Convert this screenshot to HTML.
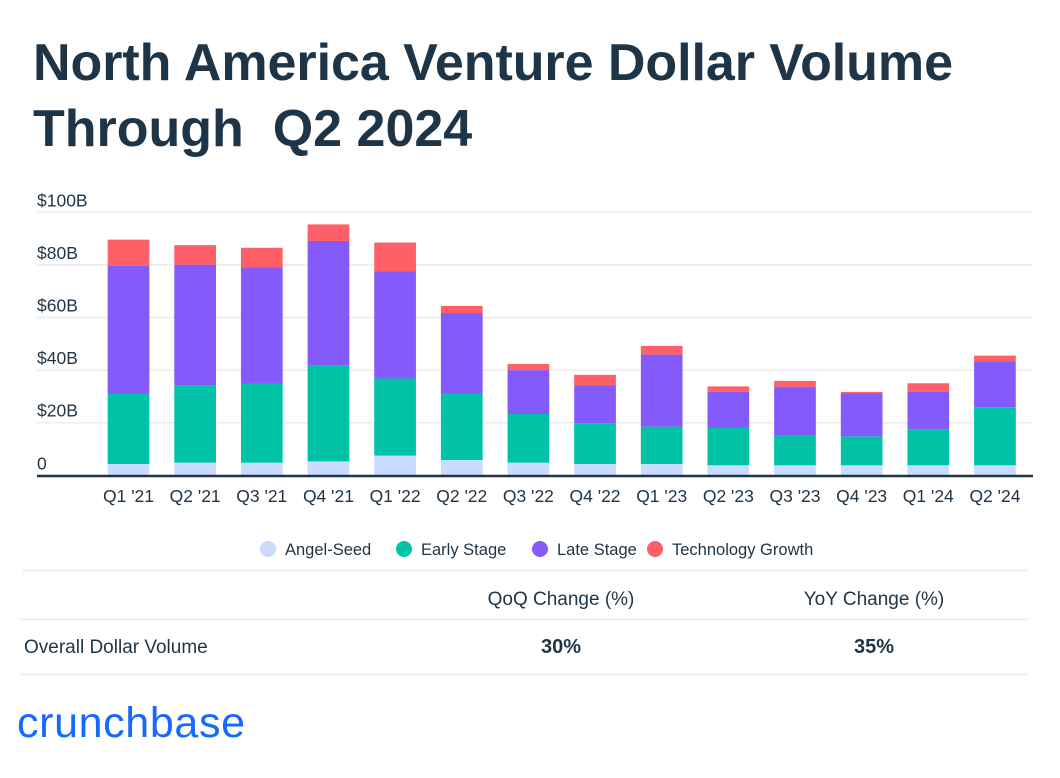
<!DOCTYPE html>
<html><head><meta charset="utf-8"><style>
body{margin:0;background:#fff;width:1060px;height:773px;overflow:hidden;font-family:"Liberation Sans",sans-serif}
</style></head><body>
<svg width="1060" height="773" xmlns="http://www.w3.org/2000/svg" font-family="Liberation Sans, sans-serif">
<text x="33" y="80" font-size="52" font-weight="bold" fill="#1e3447" textLength="920">North America Venture Dollar Volume</text>
<text x="33" y="146" font-size="52" font-weight="bold" fill="#1e3447" xml:space="preserve">Through  Q2 2024</text>
<g id="grid"></g>
<g id="bars"></g>
<g id="xlabels"></g>
<line x1="37" y1="476" x2="1033" y2="476" stroke="#1e3447" stroke-width="2.5"/>
<g id="legend" font-size="16.5" fill="#1e3447"></g>
<line x1="22" y1="570.5" x2="1028" y2="570.5" stroke="#ececec" stroke-width="1.5"/>
<line x1="20" y1="619.5" x2="1028" y2="619.5" stroke="#ececec" stroke-width="1.5"/>
<line x1="20" y1="674.5" x2="1028" y2="674.5" stroke="#ececec" stroke-width="1.5"/>
<text x="561" y="605" font-size="19" fill="#1e3447" text-anchor="middle">QoQ Change (%)</text>
<text x="874" y="605" font-size="19" fill="#1e3447" text-anchor="middle">YoY Change (%)</text>
<text x="24" y="653" font-size="19" fill="#1e3447">Overall Dollar Volume</text>
<text x="561" y="653" font-size="20" font-weight="bold" fill="#1e3447" text-anchor="middle">30%</text>
<text x="874" y="653" font-size="20" font-weight="bold" fill="#1e3447" text-anchor="middle">35%</text>
<text x="17" y="737" font-size="43" fill="#146aff" textLength="228">crunchbase</text>
</svg>
<script>
const categories=["Q1 '21","Q2 '21","Q3 '21","Q4 '21","Q1 '22","Q2 '22","Q3 '22","Q4 '22","Q1 '23","Q2 '23","Q3 '23","Q4 '23","Q1 '24","Q2 '24"];
const angelSeed=[4.3,4.8,4.8,5.3,7.5,5.8,4.8,4.3,4.3,3.8,3.8,3.8,3.8,3.8];
const earlyStage=[26.8,29.5,30.1,36.5,29.3,25.3,18.5,15.5,14.2,14.2,11.5,11.0,13.7,22.1];
const lateStage=[48.5,45.8,44.1,47.3,40.7,30.6,16.7,14.5,27.4,13.8,18.4,16.3,14.3,17.4];
const techGrowth=[10.0,7.4,7.5,6.3,11.0,2.7,2.3,3.9,3.3,2.0,2.2,0.6,3.2,2.2];
const yTicks=[0,20,40,60,80,100];
const yTickLabels=["0","$20B","$40B","$60B","$80B","$100B"];
const seriesNames=["Angel-Seed","Early Stage","Late Stage","Technology Growth"];
const colors=["#c9dbff","#00c2a6","#845bfa","#ff5f66"];
const NS="http://www.w3.org/2000/svg";
const y=v=>475.3-v*2.63;
const x=i=>128.5+i*66.65;
const bw=41.7;
function mk(t,a,p){const e=document.createElementNS(NS,t);for(const k in a)e.setAttribute(k,a[k]);p.appendChild(e);return e;}
const grid=document.getElementById('grid');
yTicks.forEach((t,i)=>{
 if(t>0){const l=mk('line',{x1:37,x2:1033,y1:y(t),y2:y(t),stroke:'#ececec','stroke-width':1.5},grid);
 
 }
 const tx=mk('text',{x:37,y:y(t)-6,'font-size':17.5,fill:'#1e3447'},grid);
 tx.textContent=yTickLabels[i];
 
 
});
const bars=document.getElementById('bars');
const series=[angelSeed,earlyStage,lateStage,techGrowth];
const keys=['angel-seed','early-stage','late-stage','tech-growth'];
categories.forEach((c,i)=>{
 let base=0;
 series.forEach((s,k)=>{
  const v=s[i];
  const r=mk('rect',{x:x(i)-bw/2,y:y(base+v),width:bw,height:y(base)-y(base+v),fill:colors[k]},bars);
  
  
  base+=v;
 });
 const t=mk('text',{x:x(i),y:502,'font-size':17.5,fill:'#1e3447','text-anchor':'middle'},document.getElementById('xlabels'));
 t.textContent=c;
 
 
});
const lg=document.getElementById('legend');
const lx=[268,404,540,655];
seriesNames.forEach((n,k)=>{
 const c=mk('circle',{cx:lx[k],cy:549,r:8,fill:colors[k]},lg);
 
 
 const t=mk('text',{x:lx[k]+17,y:555},lg);
 t.textContent=n;
 
 
});
</script>
</body></html>
